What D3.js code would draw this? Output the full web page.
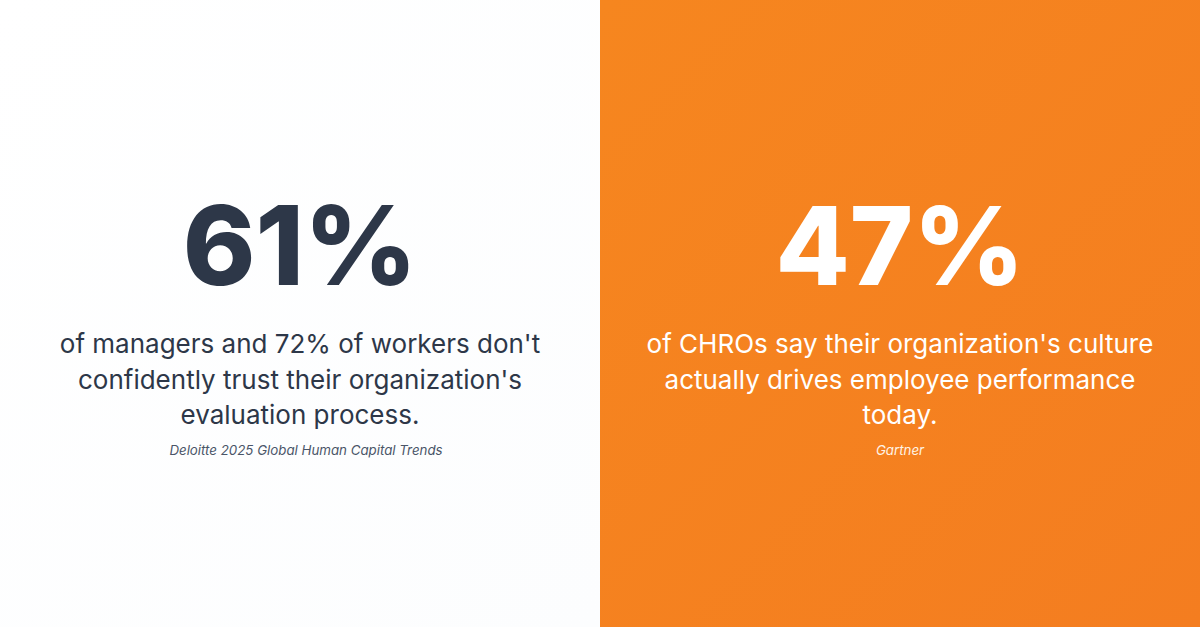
<!DOCTYPE html>
<html><head><meta charset="utf-8">
<script src="https://cdn.jsdelivr.net/npm/d3@7"></script>
<style>html,body{margin:0;padding:0;overflow:hidden;background:#fff}</style>
</head><body>
<script>
const panels = ["left", "right"];
const values = [61, 47];
const descriptions = [
  ["of managers and 72% of workers don't", "confidently trust their organization's", "evaluation process."],
  ["of CHROs say their organization's culture", "actually drives employee performance", "today."]
];
const sources = ["Deloitte 2025 Global Human Capital Trends", "Gartner"];

const W = 1200, H = 627;
const svg = d3.select("body").append("svg").attr("width", W).attr("height", H);
const defs = svg.append("defs");
const g1 = defs.append("linearGradient").attr("id","gL").attr("x1","0").attr("y1","0").attr("x2","1").attr("y2","1");
g1.append("stop").attr("offset","0").attr("stop-color","#ffffff");
g1.append("stop").attr("offset","1").attr("stop-color","#fcfdfe");
const g2 = defs.append("linearGradient").attr("id","gR").attr("x1","0").attr("y1","0").attr("x2","1").attr("y2","1");
g2.append("stop").attr("offset","0").attr("stop-color","#f6861f");
g2.append("stop").attr("offset","1").attr("stop-color","#f47d20");

const x = d3.scaleBand().domain(panels).range([0, W]);
const fills = ["url(#gL)", "url(#gR)"];
const numColors = ["#2d3748", "#ffffff"];
const textColors = ["#2d3748", "#ffffff"];
const srcColors = ["#4a5568", "#fff3e6"];

const grp = svg.selectAll("g.panel").data(panels).join("g").attr("class","panel")
  .attr("transform", d => `translate(${x(d)},0)`);
grp.append("rect").attr("width", x.bandwidth()).attr("height", H).attr("fill", (d,i) => fills[i]);

const cx = x.bandwidth() / 2;
grp.append("text").attr("x", cx).attr("y", 285).attr("text-anchor","middle")
  .attr("font-family","Inter, sans-serif").attr("font-weight", 800).attr("font-size", 110)
  .attr("fill", (d,i) => numColors[i])
  .attr("font-size", (d,i) => i === 1 ? 108 : 110)
  .text((d,i) => values[i] + "%");

grp.each(function(d, i) {
  const t = d3.select(this).append("text").attr("text-anchor","middle")
    .attr("font-family","Inter, sans-serif").attr("font-weight", 400).attr("font-size", 26)
    .attr("fill", textColors[i]);
  descriptions[i].forEach((line, j) => {
    t.append("tspan").attr("x", cx).attr("y", 353 + j * 35.5).text(line);
  });
});

grp.append("text").attr("x", (d,i) => cx + (i === 0 ? 6 : 0)).attr("y", 455).attr("text-anchor","middle")
  .attr("font-family","Inter, sans-serif").attr("font-style","italic").attr("font-size", 13.3)
  .attr("fill", (d,i) => srcColors[i])
  .text((d,i) => sources[i]);
</script>
</body></html>
